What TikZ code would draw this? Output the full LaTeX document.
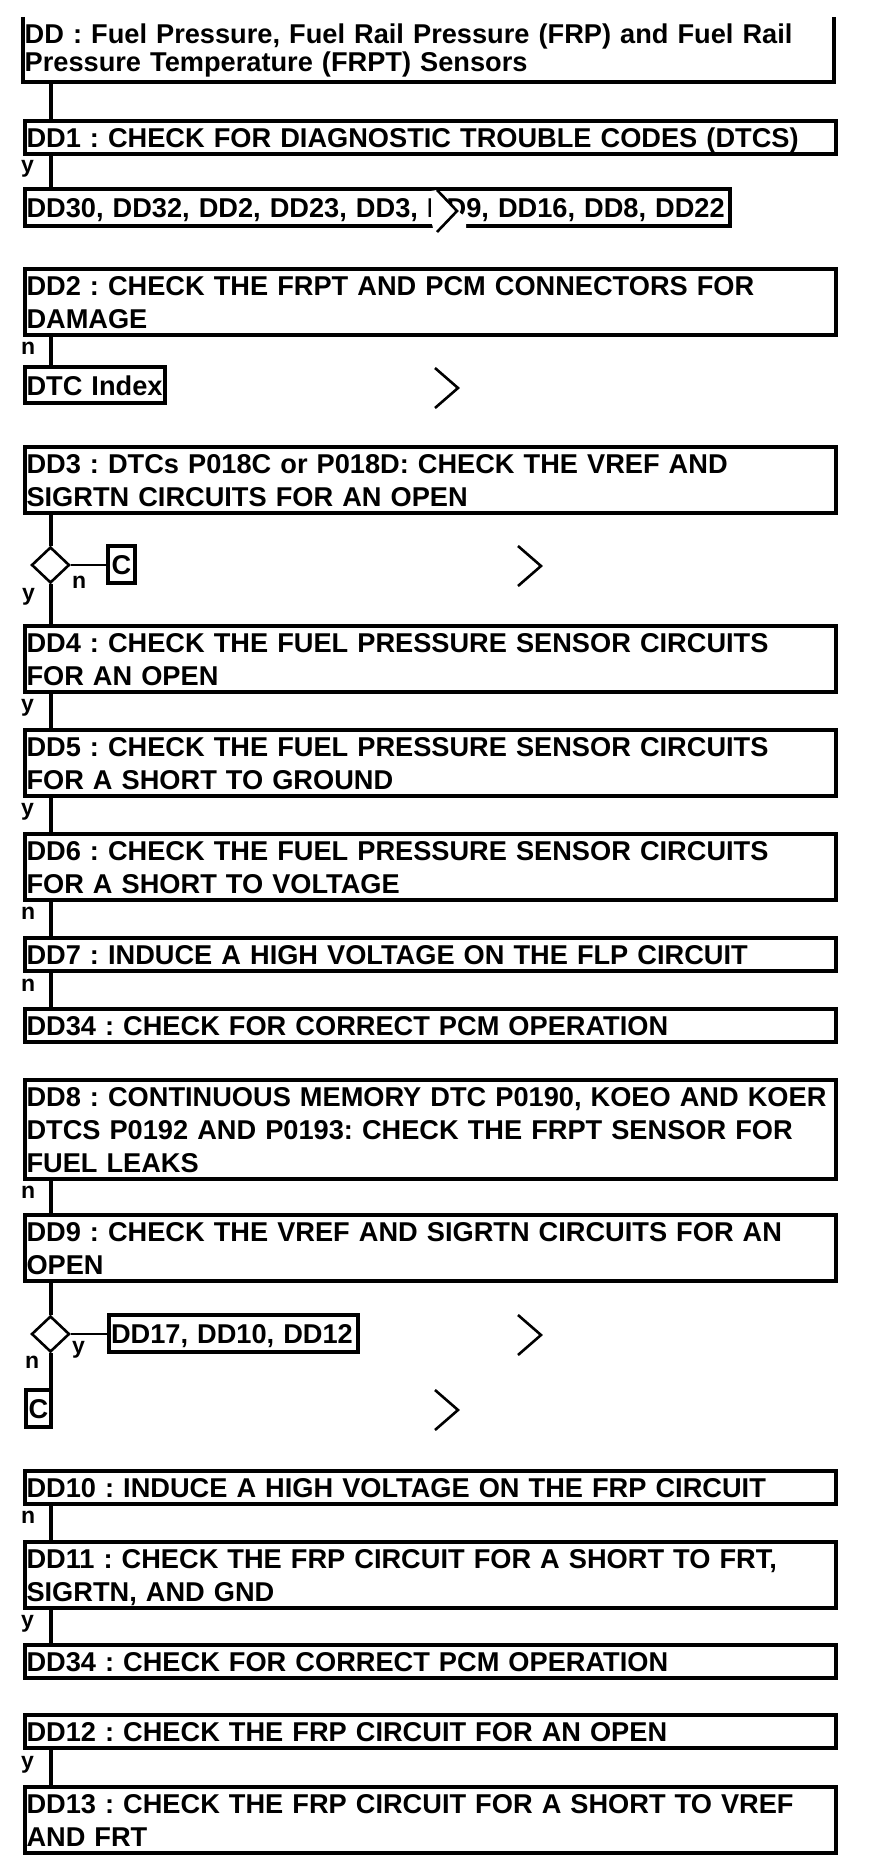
\documentclass[tikz,border=0pt]{standalone}
\usepackage{fontspec}
\setmainfont{Liberation Sans}
\usetikzlibrary{shapes.geometric}
\hfuzz=50pt
\hbadness=10000
\begin{document}
\frenchspacing
\begin{tikzpicture}[x=1pt,y=-1pt,
  stepbox/.style={draw, line width=4pt, anchor=north west, inner xsep=2pt, inner ysep=0pt,
    align=left, text width=807pt, font=\bfseries\fontsize{27.2}{33}\selectfont\frenchspacing,
    execute at begin node={\rule{0pt}{26.5pt}},
    execute at end node={\rule[-6.5pt]{0pt}{6.5pt}}},
  resbox/.style={stepbox, minimum height=37pt},
  titlebox/.style={anchor=north west, inner xsep=2pt, inner ysep=0pt,
    align=left, text width=807pt, font=\bfseries\fontsize{27.2}{28}\selectfont\frenchspacing,
    execute at begin node={\rule{0pt}{26.5pt}},
    execute at end node={\rule[-10.5pt]{0pt}{10.5pt}}},
  conn/.style={line width=4pt},
  link/.style={line width=2.4pt},
  dec/.style={shape=diamond, draw, line width=2.6pt, minimum width=38pt, minimum height=36pt, inner sep=0pt},
  lbl/.style={anchor=base west, inner sep=0pt, font=\bfseries\fontsize{23}{23}\selectfont},
  chev/.style={line width=2.6pt}
]
\useasboundingbox (0,0) rectangle (880,1870);
\coordinate (cx) at (50.5,0);

% title
\node[titlebox] (title) at (22.5,17) {\mbox{DD : Fuel Pressure, Fuel Rail Pressure (FRP) and Fuel Rail}\\\mbox{Pressure Temperature (FRPT) Sensors}};
\draw[line width=4pt] (title.north west) -- (title.south west) -- (title.south east) -- (title.north east);

\node[stepbox] (dd1) at (22.5,119) {\mbox{DD1 : CHECK FOR DIAGNOSTIC TROUBLE CODES (DTCS)}};
\node[resbox, text width=701.5pt] (dd30) at (22.5,187) {\mbox{DD30, DD32, DD2, DD23, DD3, DD9, DD16, DD8, DD22}};

\node[stepbox] (dd2) at (22.5,267) {\mbox{DD2 : CHECK THE FRPT AND PCM CONNECTORS FOR}\\\mbox{DAMAGE}};
\node[resbox, text width=136pt, minimum height=36pt] (dtc) at (22.5,365) {\mbox{DTC Index}};

\node[stepbox] (dd3) at (22.5,445) {\mbox{DD3 : DTCs P018C or P018D: CHECK THE VREF AND}\\\mbox{SIGRTN CIRCUITS FOR AN OPEN}};
\node[dec] (d1) at (50.5,565) {};
\node[resbox, anchor=west, text width=23pt, align=center] (c1) at (106,564) {C};

\node[stepbox] (dd4) at (22.5,624) {\mbox{DD4 : CHECK THE FUEL PRESSURE SENSOR CIRCUITS}\\\mbox{FOR AN OPEN}};
\node[stepbox] (dd5) at (22.5,728) {\mbox{DD5 : CHECK THE FUEL PRESSURE SENSOR CIRCUITS}\\\mbox{FOR A SHORT TO GROUND}};
\node[stepbox] (dd6) at (22.5,832) {\mbox{DD6 : CHECK THE FUEL PRESSURE SENSOR CIRCUITS}\\\mbox{FOR A SHORT TO VOLTAGE}};
\node[stepbox] (dd7) at (22.5,936) {\mbox{DD7 : INDUCE A HIGH VOLTAGE ON THE FLP CIRCUIT}};
\node[stepbox] (dd34a) at (22.5,1007) {\mbox{DD34 : CHECK FOR CORRECT PCM OPERATION}};

\node[stepbox] (dd8) at (22.5,1078) {\mbox{DD8 : CONTINUOUS MEMORY DTC P0190, KOEO AND KOER}\\\mbox{DTCS P0192 AND P0193: CHECK THE FRPT SENSOR FOR}\\\mbox{FUEL LEAKS}};
\node[stepbox] (dd9) at (22.5,1213) {\mbox{DD9 : CHECK THE VREF AND SIGRTN CIRCUITS FOR AN}\\\mbox{OPEN}};
\node[dec] (d2) at (50.5,1334) {};
\node[resbox, anchor=west, text width=244.7pt] (dd17) at (107,1333) {\mbox{DD17, DD10, DD12}};
\node[resbox, text width=21pt, align=center] (c2) at (24,1388) {C};

\node[stepbox] (dd10) at (22.5,1469) {\mbox{DD10 : INDUCE A HIGH VOLTAGE ON THE FRP CIRCUIT}};
\node[stepbox] (dd11) at (22.5,1540) {\mbox{DD11 : CHECK THE FRP CIRCUIT FOR A SHORT TO FRT,}\\\mbox{SIGRTN, AND GND}};
\node[stepbox] (dd34b) at (22.5,1643) {\mbox{DD34 : CHECK FOR CORRECT PCM OPERATION}};

\node[stepbox] (dd12) at (22.5,1713) {\mbox{DD12 : CHECK THE FRP CIRCUIT FOR AN OPEN}};
\node[stepbox] (dd13) at (22.5,1785) {\mbox{DD13 : CHECK THE FRP CIRCUIT FOR A SHORT TO VREF}\\\mbox{AND FRT}};

% connectors
\draw[conn] (title.south -| cx) -- (dd1.north -| cx);
\draw[conn] (dd1.south -| cx) -- (dd30.north -| cx);
\draw[conn] (dd2.south -| cx) -- (dtc.north -| cx);
\draw[conn] (dd3.south -| cx) -- (d1.north);
\draw[conn] (d1.south) -- (dd4.north -| cx);
\draw[link] (d1.east) -- (d1.east -| c1.west);
\draw[conn] (dd4.south -| cx) -- (dd5.north -| cx);
\draw[conn] (dd5.south -| cx) -- (dd6.north -| cx);
\draw[conn] (dd6.south -| cx) -- (dd7.north -| cx);
\draw[conn] (dd7.south -| cx) -- (dd34a.north -| cx);
\draw[conn] (dd8.south -| cx) -- (dd9.north -| cx);
\draw[conn] (dd9.south -| cx) -- (d2.north);
\draw[conn] (d2.south) -- (c2.north -| cx);
\draw[link] (d2.east) -- (d2.east -| dd17.west);
\draw[conn] (dd10.south -| cx) -- (dd11.north -| cx);
\draw[conn] (dd11.south -| cx) -- (dd34b.north -| cx);
\draw[conn] (dd12.south -| cx) -- (dd13.north -| cx);

% labels
\node[lbl] (l1) at (21,173) {y};
\node[lbl] (l2) at (21,354) {n};
\node[lbl] (l3) at (72,588) {n};
\node[lbl] (l4) at (22,600) {y};
\node[lbl] (l5) at (21,711) {y};
\node[lbl] (l6) at (21,815) {y};
\node[lbl] (l7) at (21,919) {n};
\node[lbl] (l8) at (21,991) {n};
\node[lbl] (l9) at (21,1198) {n};
\node[lbl] (l10) at (72,1353) {y};
\node[lbl] (l11) at (25,1368) {n};
\node[lbl] (l12) at (21,1523) {n};
\node[lbl] (l13) at (21,1627) {y};
\node[lbl] (l14) at (21,1768) {y};

% chevrons
\fill[white] (431,191) -- (437,190) -- (457,210) -- (466,218) -- (466,228) -- (433,228) -- (431,220) -- cycle;
\draw[chev] (437,190) -- (457,211) -- (437,232);
\draw[chev] (435,368) -- (458,388) -- (435,408);
\draw[chev] (518,546) -- (541,566) -- (518,586);
\draw[chev] (518,1315) -- (541,1335) -- (518,1355);
\draw[chev] (435,1390) -- (458,1410) -- (435,1430);
\end{tikzpicture}
\end{document}
